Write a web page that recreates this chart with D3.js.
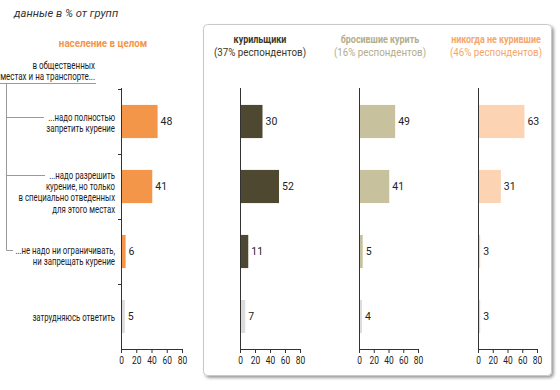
<!DOCTYPE html>
<html><head><meta charset="utf-8">
<script src="https://cdn.jsdelivr.net/npm/d3@7"></script>
<style>
html,body{margin:0;padding:0;background:#fff;}
svg{display:block;}
text{font-family:Roboto,"Noto Sans",Arial,sans-serif;}
</style></head>
<body><svg id="c" width="560" height="390"></svg>
<script>
const categories = [
  ["...надо полностью", "запретить курение"],
  ["...надо разрешить", "курение, но только", "в специально отведенных", "для этого местах"],
  ["...не надо ни ограничивать,", "ни запрещать курение"],
  ["затрудняюсь ответить"]
];
const groupNames = ["население в целом", "курильщики", "бросившие курить", "никогда не курившие"];
const groupShares = ["", "(37% респондентов)", "(16% респондентов)", "(46% респондентов)"];
const totalValues = [48, 41, 6, 5];
const smokerValues = [30, 52, 11, 7];
const quitValues = [49, 41, 5, 4];
const neverValues = [63, 31, 3, 3];
const xTicks = [0, 20, 40, 60, 80];
const subtitle = "данные в % от групп";
const question = ["в общественных", "местах и на транспорте..."];

const series = [totalValues, smokerValues, quitValues, neverValues];
const barColors = ["#f3964a", "#4f4830", "#c7c19d", "#fcd4b4"];
const otherColor = "#dcdcdc";
const titleColors = ["#f3964a", "#3d3826", "#b3ad8c", "#f6a66c"];
const ranges = [[121, 182], [240, 300], [359, 418], [478, 537]];
const titleCenters = [103, 260, 380, 496];

// draws a horizontally condensed text at (x, y)
function ctext(parent, x, y, k, str) {
  return parent.append("text").attr("transform", `translate(${x},${y}) scale(${k},1)`)
    .attr("dy", "0.35em").text(str);
}

const svg = d3.select("#c");
const defs = svg.append("defs");
const f = defs.append("filter").attr("id", "sh").attr("x", "-5%").attr("y", "-5%").attr("width", "115%").attr("height", "115%");
f.append("feDropShadow").attr("dx", 2).attr("dy", 2).attr("stdDeviation", 1.5).attr("flood-color", "#000").attr("flood-opacity", 0.38);

svg.append("rect").attr("x", 203.5).attr("y", 24.5).attr("width", 348).attr("height", 351)
  .attr("rx", 4).attr("fill", "#fff").attr("stroke", "#c8c8c8").attr("filter", "url(#sh)");

ctext(svg, 14, 13, 1.02, subtitle).attr("font-size", 11).attr("font-style", "italic").attr("fill", "#333");

const idx = d3.range(categories.length);
const y = d3.scaleBand().domain(idx).range([89, 349]).paddingInner(0.49).paddingOuter(0.245);

const lab = svg.append("g").attr("font-size", 10).attr("fill", "#222").attr("text-anchor", "end");
const lh = 11.4;
const tops = [117, 175, 250, 317];
idx.forEach(i => {
  categories[i].forEach((t, k) => ctext(lab, 115, tops[i] + k * lh, 0.78, t));
});
const qg = svg.append("g").attr("font-size", 10).attr("fill", "#222").attr("text-anchor", "end");
question.forEach((t, k) => ctext(qg, 95, 65 + k * 11.5, 0.8, t));

const br = svg.append("g").attr("stroke", "#9a9a9a").attr("stroke-width", 1).attr("fill", "none");
br.append("path").attr("d", "M0,83.5H96");
br.append("path").attr("d", "M6.5,83.5V250.5H13");
br.append("path").attr("d", "M6.5,117.5H44");
br.append("path").attr("d", "M6.5,175.5H45");

series.forEach((vals, p) => {
  const x = d3.scaleLinear().domain([0, 80]).range(ranges[p]);
  const g = svg.append("g");
  const cx = titleCenters[p];
  const tg = g.append("g").attr("text-anchor", "middle").attr("fill", titleColors[p]);
  if (p === 0) {
    ctext(tg, cx, 43, 0.85, groupNames[p]).attr("font-size", 11.5).attr("font-weight", "bold");
  } else {
    ctext(tg, cx, 39, 0.85, groupNames[p]).attr("font-size", 10.5).attr("font-weight", "bold");
    ctext(tg, cx, 51.5, 0.85, groupShares[p]).attr("font-size", 11.5);
  }
  g.selectAll("rect.bar").data(vals).join("rect").attr("class", "bar")
    .attr("x", x(0)).attr("y", (d, i) => y(i)).attr("width", d => x(d) - x(0))
    .attr("height", y.bandwidth()).attr("fill", (d, i) => i === 3 ? otherColor : barColors[p]);
  g.selectAll("text.val").data(vals).join("text").attr("class", "val")
    .attr("x", d => x(d) + 3).attr("y", (d, i) => y(i) + y.bandwidth() / 2).attr("dy", "0.35em")
    .attr("font-size", 10.5).attr("fill", "#222").text(d => d);
  const ax = g.append("g").attr("transform", "translate(0,349)")
    .call(d3.axisBottom(x).tickValues(xTicks).tickSize(4).tickSizeOuter(0));
  ax.select(".domain").attr("stroke", "#333");
  ax.selectAll(".tick line").attr("stroke", "#333");
  ax.selectAll(".tick text").attr("font-size", 10.5).attr("fill", "#222")
    .attr("y", 0).attr("dy", 0)
    .attr("transform", "translate(0,15) scale(0.8,1)")
    .style("font-family", "Roboto,sans-serif");
  const yAx = g.append("g").attr("transform", `translate(${x(0)},0)`);
  yAx.append("line").attr("x1", 0.5).attr("x2", 0.5).attr("y1", 88).attr("y2", 349).attr("stroke", "#333");
  if (p === 0) {
    [0, 1, 2, 3].forEach(i => {
      const yy = Math.round(y(i) - y.step() * y.paddingInner() / 2) + 0.5;
      yAx.append("line").attr("x1", -3).attr("x2", 0.5).attr("y1", yy).attr("y2", yy).attr("stroke", "#333");
    });
  }
});
</script></body></html>
